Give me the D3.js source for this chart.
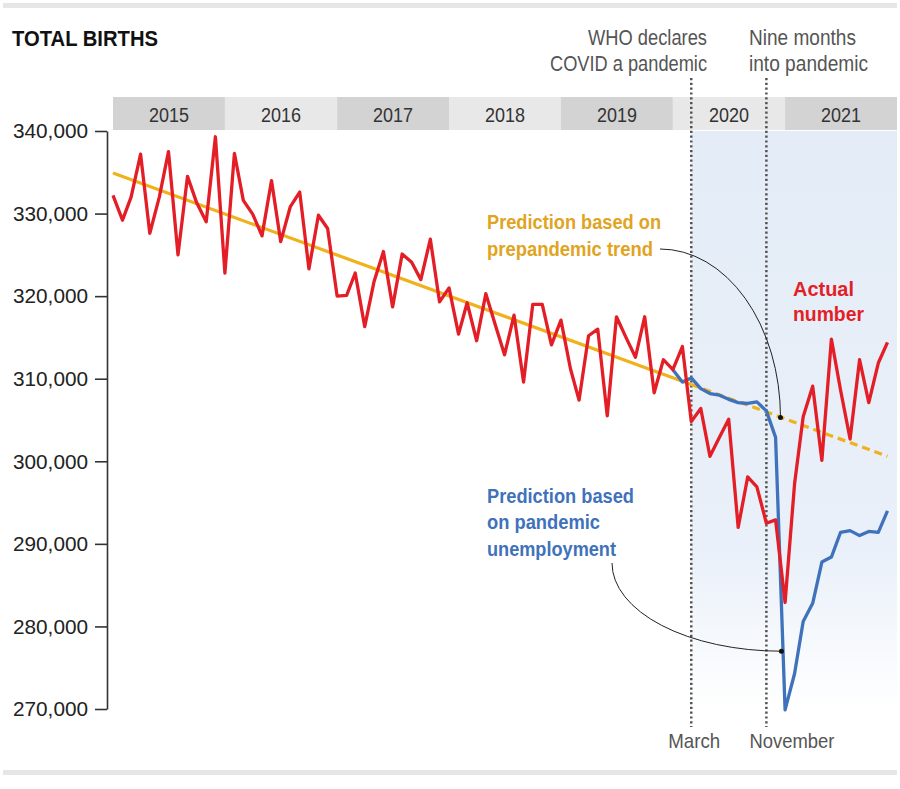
<!DOCTYPE html>
<html>
<head>
<meta charset="utf-8">
<script src="https://cdn.jsdelivr.net/npm/d3@7.9.0/dist/d3.min.js"></script>
<style>
  body { margin: 0; background: #fff; }
  svg { display: block; font-family: "Liberation Sans", Arial, sans-serif; }
</style>
</head>
<body>
<svg id="chart" width="900" height="789"></svg>
<script>
// monthly values, Jan 2015 .. Dec 2021
const years = ['2015', '2016', '2017', '2018', '2019', '2020', '2021'];
const actualBirths = [
  332200, 329200, 332000, 337200, 327600, 332000, 337500, 325000, 334500, 331300, 329000, 339300,
  322800, 337300, 331600, 329900, 327300, 334000, 326600, 330800, 332600, 323300, 329800, 328200,
  320000, 320100, 322800, 316300, 321700, 325400, 318700, 325100, 324100, 322000, 326900, 319300,
  321000, 315400, 319200, 314600, 320300, 316500, 312900, 317700, 309600, 319000, 319000, 314100,
  317100, 311200, 307400, 315200, 316000, 305500, 317500, 315000, 312600, 317500, 308300, 312300,
  311100, 313900, 304800, 306400, 300600, 302900, 305100, 292000, 298100, 296900, 292500, 292900,
  282900, 297300, 305400, 309100, 300100, 314800, 308600, 302700, 312300, 307100, 311900, 314400
];
// Jan 2020 .. Dec 2021
const unemploymentPrediction = [
  311100, 309600, 310100, 308800, 308200, 308000, 307500, 307100, 307000, 307200, 306100, 302900,
  269900, 274300, 280600, 282800, 287800, 288400, 291400, 291600, 291000, 291500, 291400, 294000
];
const trendDates = [new Date(2015, 0, 1), new Date(2020, 2, 1), new Date(2021, 11, 1)];
const trendValues = [334900, 309300, 300600];
const yTicks = [340000, 330000, 320000, 310000, 300000, 290000, 280000, 270000];
const eventDates = [new Date(2020, 2, 1), new Date(2020, 10, 1)];
const eventLabels = ['March', 'November'];

const RED = '#e31e26', BLUE = '#3f72bb', GOLD = '#f0b21c', GOLD_TXT = '#e0a41f', GRAY = '#555';

const svg = d3.select('#chart');
const x = d3.scaleTime().domain([new Date(2015, 0, 1), new Date(2022, 0, 1)]).range([113, 897]);
const y = d3.scaleLinear().domain([270000, 340000]).range([709, 131]);
const months = d3.timeMonth.range(new Date(2015, 0, 1), new Date(2022, 0, 1));

// gray rules top & bottom
svg.append('rect').attr('x', 3).attr('y', 3).attr('width', 894).attr('height', 5).attr('fill', '#e6e6e6');
svg.append('rect').attr('x', 3).attr('y', 770).attr('width', 894).attr('height', 5).attr('fill', '#e6e6e6');

// pandemic shading
const defs = svg.append('defs');
const grad = defs.append('linearGradient').attr('id', 'shade').attr('x1', 0).attr('y1', 0).attr('x2', 0).attr('y2', 1);
grad.append('stop').attr('offset', '0%').attr('stop-color', '#e4ecf7');
grad.append('stop').attr('offset', '72%').attr('stop-color', '#e9f0f9');
grad.append('stop').attr('offset', '100%').attr('stop-color', '#ffffff');
svg.append('rect')
  .attr('x', x(eventDates[0])).attr('y', y(340000))
  .attr('width', 897 - x(eventDates[0])).attr('height', y(270000) - y(340000))
  .attr('fill', 'url(#shade)');

// year bands
years.forEach((yr, i) => {
  const x0 = x(new Date(+yr, 0, 1)), x1 = x(new Date(+yr + 1, 0, 1));
  svg.append('rect').attr('x', x0).attr('y', 97).attr('width', x1 - x0).attr('height', 33)
    .attr('fill', i % 2 === 0 ? '#d3d3d3' : '#e8e8e8');
  svg.append('text').attr('x', (x0 + x1) / 2).attr('y', 122).attr('text-anchor', 'middle')
    .attr('font-size', 20).attr('fill', '#333').attr('textLength', 40).attr('lengthAdjust', 'spacingAndGlyphs')
    .text(yr);
});

// y axis
const yAxis = d3.axisLeft(y).tickValues(yTicks).tickSize(12).tickSizeOuter(0).tickPadding(7)
  .tickFormat(d3.format(','));
const gy = svg.append('g').attr('transform', 'translate(107,0)').call(yAxis);
gy.select('.domain').attr('stroke', '#333').attr('stroke-width', 1.6);
gy.selectAll('.tick line').attr('stroke', '#333').attr('stroke-width', 1.6);
gy.selectAll('.tick text').attr('font-size', 21).attr('fill', '#222')
  .attr('font-family', '"Liberation Sans", Arial, sans-serif')
  .attr('textLength', 75).attr('lengthAdjust', 'spacingAndGlyphs');

// event dotted lines
eventDates.forEach((d) => {
  svg.append('line').attr('x1', x(d)).attr('x2', x(d)).attr('y1', 78).attr('y2', 727)
    .attr('stroke', GRAY).attr('stroke-width', 2.5).attr('stroke-dasharray', '2.2,2.6');
});

// trend line: solid for fit, dashed projection
const trendLine = d3.line().x((d) => x(d[0])).y((d) => y(d[1]));
const trendPts = trendDates.map((d, i) => [d, trendValues[i]]);
svg.append('path').attr('d', trendLine(trendPts.slice(0, 2)))
  .attr('fill', 'none').attr('stroke', GOLD).attr('stroke-width', 3.2);
svg.append('path').attr('d', trendLine(trendPts.slice(1)))
  .attr('fill', 'none').attr('stroke', GOLD).attr('stroke-width', 3.2).attr('stroke-dasharray', '8,5');

// unemployment prediction
const lineGen = d3.line().x((d) => x(d[0])).y((d) => y(d[1]));
const blueStart = months.findIndex((m) => m.getFullYear() === 2020);
svg.append('path')
  .attr('d', lineGen(unemploymentPrediction.map((v, i) => [months[blueStart + i], v])))
  .attr('fill', 'none').attr('stroke', BLUE).attr('stroke-width', 3.3).attr('stroke-linejoin', 'round');

// actual
svg.append('path')
  .attr('d', lineGen(actualBirths.map((v, i) => [months[i], v])))
  .attr('fill', 'none').attr('stroke', RED).attr('stroke-width', 3.3).attr('stroke-linejoin', 'round');

// text helper
function addText(txt, tx, ty, o) {
  const t = svg.append('text').attr('x', tx).attr('y', ty).text(txt)
    .attr('font-size', o.size).attr('fill', o.color)
    .attr('font-weight', o.bold ? 'bold' : 'normal')
    .attr('text-anchor', o.anchor || 'start');
  if (o.width) t.attr('textLength', o.width).attr('lengthAdjust', 'spacingAndGlyphs');
  return t;
}

addText('TOTAL BIRTHS', 12, 46, { size: 22, color: '#111', bold: true, width: 146 });
addText('WHO declares', 707, 45, { size: 22, color: GRAY, anchor: 'end', width: 119 });
addText('COVID a pandemic', 707, 71, { size: 22, color: GRAY, anchor: 'end', width: 157 });
addText('Nine months', 749, 45, { size: 22, color: GRAY, width: 107 });
addText('into pandemic', 749, 71, { size: 22, color: GRAY, width: 119 });

addText(eventLabels[0], x(eventDates[0]) + 3, 748, { size: 21, color: GRAY, anchor: 'middle', width: 52 });
addText(eventLabels[1], x(eventDates[1]) - 17, 748, { size: 21, color: GRAY, width: 85 });

addText('Prediction based on', 487, 229, { size: 21, color: GOLD_TXT, bold: true, width: 174 });
addText('prepandemic trend', 487, 256, { size: 21, color: GOLD_TXT, bold: true, width: 166 });
addText('Actual', 793, 296, { size: 21, color: RED, bold: true, width: 61 });
addText('number', 793, 321, { size: 21, color: RED, bold: true, width: 71 });
addText('Prediction based', 487, 503, { size: 21, color: BLUE, bold: true, width: 147 });
addText('on pandemic', 487, 529, { size: 21, color: BLUE, bold: true, width: 113 });
addText('unemployment', 487, 556, { size: 21, color: BLUE, bold: true, width: 129 });

// leader lines
const trendDot = [x(new Date(2020, 11, 17)), y(305300)];
const blueDot = [x(new Date(2020, 11, 20)), y(277000)];
const s1 = [660, 249];
svg.append('path')
  .attr('d', `M${s1[0]},${s1[1]} A${trendDot[0] - s1[0]},${trendDot[1] - s1[1]} 0 0 1 ${trendDot[0]},${trendDot[1]}`)
  .attr('fill', 'none').attr('stroke', '#222').attr('stroke-width', 1);
const s2 = [612, 563];
svg.append('path')
  .attr('d', `M${s2[0]},${s2[1]} A${blueDot[0] - s2[0]},${blueDot[1] - s2[1]} 0 0 0 ${blueDot[0]},${blueDot[1]}`)
  .attr('fill', 'none').attr('stroke', '#222').attr('stroke-width', 1);
[trendDot, blueDot].forEach((p) => {
  svg.append('circle').attr('cx', p[0]).attr('cy', p[1]).attr('r', 2.5).attr('fill', '#111');
});
</script>
</body>
</html>
